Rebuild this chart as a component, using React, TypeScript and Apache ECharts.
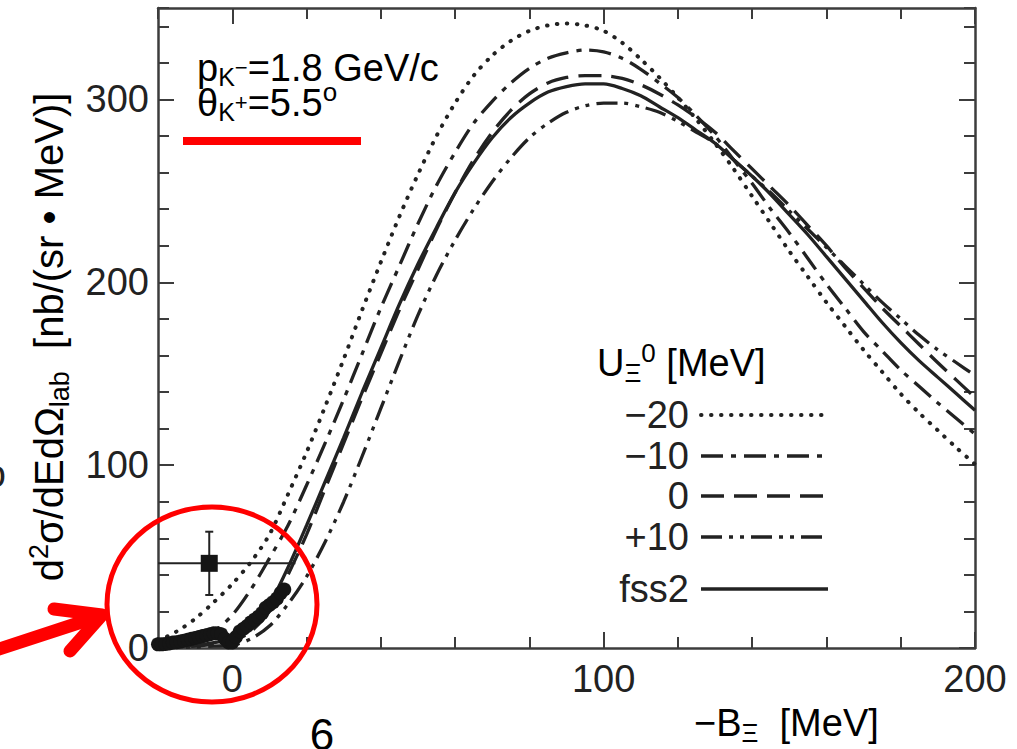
import React, { useEffect, useRef } from 'react';
import * as echarts from 'echarts';

// ---------- data ----------
const xValues = [-20, -15, -10, -5, 0, 5, 10, 15, 20, 25, 30, 35, 40, 45, 50, 55, 60, 65, 70, 75, 80, 85, 90, 95, 100, 105, 110, 115, 120, 125, 130, 135, 140, 145, 150, 155, 160, 165, 170, 175, 180, 185, 190, 195, 200];
const uMinus20 = [4, 9, 16, 25, 35, 47, 62, 84, 107, 132, 158, 185, 211, 236, 259, 280, 298, 313, 324, 332, 337.5, 340.5, 341.5, 340.5, 337.5, 331, 322, 312, 301, 289, 276, 262, 247, 232, 217, 203, 189, 176, 163, 151, 139, 128.5, 119, 109.5, 100.5];
const uMinus10 = [1.5, 3, 5, 9, 18, 32, 49, 67, 89, 112, 136, 161, 186, 209, 232, 253, 271, 287, 299, 309, 317, 322.5, 325.5, 327, 326, 322.5, 316.5, 309, 301, 291, 280, 267, 254, 240, 227, 213, 199, 186, 173, 162.5, 152, 143, 134, 125.5, 117];
const uZero = [0.3, 0.6, 1, 2, 3.5, 9, 20, 40, 62, 87, 112, 137, 161, 185, 207, 229, 249, 267, 282, 294, 303, 309, 312, 313, 313, 311.5, 308, 303, 297, 290, 282, 272, 262, 252, 242, 231, 220, 208, 197, 186, 176, 166, 156, 146.5, 137];
const uPlus10 = [0.2, 0.3, 0.5, 1, 1.5, 5, 12, 24, 39, 58, 80, 105, 131, 157, 182, 204, 223, 240, 255, 268, 279, 287, 293, 296.5, 298, 298, 296, 293, 288, 282, 276, 267, 258, 249, 239, 229, 219, 209, 199, 189, 180, 171, 163, 156, 149];
const fss2 = [0.5, 1, 1.5, 3, 5, 12, 24, 44, 67, 91, 115, 140, 164, 188, 210, 230, 249, 265, 279, 290, 298, 304, 307, 308.5, 308.5, 306, 302, 296, 290, 283, 276, 267, 258, 248, 237, 226, 214, 202, 190, 178, 167, 157, 148, 139, 130];

const dataX = [-20, -19, -18, -17, -16, -15, -14, -13, -12, -11, -10, -9, -8, -7, -6, -5, -4, -3, -2, -1, 0, 1, 2, 3, 4, 5, 6, 7, 8, 9, 10, 11, 12, 13, 14];
const dataY = [2, 2, 2.2, 2.5, 3, 3.2, 3.5, 4, 4.5, 5, 5.5, 6, 6.5, 7, 7.5, 8, 8, 7.5, 5, 3, 3, 6, 9, 10.5, 12, 14, 15.5, 17, 19, 22, 23.5, 25, 27, 30, 32];

// measured point with error bars: [x, y, xErr, yErr]
const measured = [-6.2, 46.3, 23.2, 17.3];

const xLabelValues = [0, 100, 200];
const yLabelValues = [0, 100, 200, 300];
const legendLabels = ['\u221220', '\u221210', '0', '+10', 'fss2'];

// ---------- styles ----------
const FONT = '"Liberation Sans", Arial, Helvetica, sans-serif';
const INK = '#222222';
const AXIS = '#3c3c3c';
const DASH_M20 = [0.5, 9.5];
const DASH_M10 = [22, 8, 5, 8];
const DASH_0 = [23, 10];
const DASH_P10 = [21, 7, 4, 7, 4, 7];
const dashes = [DASH_M20, DASH_M10, DASH_0, DASH_P10, null];
const caps = ['round', 'butt', 'butt', 'butt', 'butt'];
const widths = [4, 3.3, 3.3, 3.3, 3.3];

const base = { fontFamily: FONT, color: INK };
const richA = {
  a: { ...base, fontSize: 38, lineHeight: 46 },
  sub: { ...base, fontSize: 26, lineHeight: 24, verticalAlign: 'bottom' },
  sup: { ...base, fontSize: 26, lineHeight: 24, verticalAlign: 'top' },
};
const richB = {
  a: { ...base, fontSize: 38, lineHeight: 35 },
  sub: { ...base, fontSize: 25, lineHeight: 14, height: 16, verticalAlign: 'bottom' },
  ssup: { ...base, fontSize: 22, lineHeight: 14, height: 14, verticalAlign: 'middle' },
  sup: { ...base, fontSize: 26, lineHeight: 14, height: 14, verticalAlign: 'top' },
};
const richY = {
  a: { ...base, fontSize: 40, lineHeight: 48 },
  sub: { ...base, fontSize: 27, lineHeight: 25, verticalAlign: 'bottom' },
  sup: { ...base, fontSize: 27, lineHeight: 25, verticalAlign: 'top' },
};

const pair = (ys: number[]) => xValues.map((x, i) => [x, ys[i]]);

function lineSeries(name: string, ys: number[], idx: number) {
  return {
    type: 'line',
    name,
    data: pair(ys),
    symbol: 'none',
    showSymbol: false,
    smooth: 0.3,
    clip: true,
    silent: true,
    z: 3,
    lineStyle: {
      color: INK,
      width: widths[idx],
      type: dashes[idx] || 'solid',
      cap: caps[idx],
    },
  };
}

function makeXAxis(position: 'top' | 'bottom', major: boolean, labels: boolean) {
  return {
    type: 'value',
    gridIndex: 0,
    position,
    min: -20,
    max: 200,
    interval: 20,
    axisLine: { show: !major, onZero: false, lineStyle: { color: AXIS, width: 2.5 } },
    axisTick: major
      ? { show: true, inside: true, length: 16, customValues: xLabelValues, lineStyle: { color: AXIS, width: 2 } }
      : { show: true, inside: true, length: 11, lineStyle: { color: AXIS, width: 2 } },
    axisLabel: labels
      ? { show: true, customValues: xLabelValues, fontSize: 38, fontFamily: FONT, color: INK, margin: 12 }
      : { show: false },
    splitLine: { show: false },
  };
}

function makeYAxis(position: 'left' | 'right', major: boolean, labels: boolean) {
  return {
    type: 'value',
    gridIndex: 0,
    position,
    min: 0,
    max: 350,
    interval: 20,
    axisLine: { show: !major, onZero: false, lineStyle: { color: AXIS, width: 2.5 } },
    axisTick: major
      ? { show: true, inside: true, length: 16, customValues: yLabelValues, lineStyle: { color: AXIS, width: 2 } }
      : { show: true, inside: true, length: 11, lineStyle: { color: AXIS, width: 2 } },
    axisLabel: labels
      ? { show: true, customValues: yLabelValues, fontSize: 38, fontFamily: FONT, color: INK, margin: 9 }
      : { show: false },
    splitLine: { show: false },
  };
}

const legendY = [415, 456, 496, 537, 589];

function buildGraphic() {
  const g: any[] = [];
  // annotation text (two lines)
  g.push({
    type: 'text', x: 197, y: 50, z: 10,
    style: {
      text: '{a|p}{sub|K}{ssup|\u2212}{a|=1.8 GeV/c}\n{a|\u03b8}{sub|K}{ssup|+}{a|=5.5}{sup|o}',
      rich: richB, verticalAlign: 'top', align: 'left',
    },
  });
  // legend title
  g.push({
    type: 'text', x: 597, y: 340, z: 10,
    style: { text: '{a|U}{sub|\u039e}{sup|0}{a| [MeV]}', rich: richA, verticalAlign: 'top', align: 'left' },
  });
  legendLabels.forEach((lab, i) => {
    g.push({
      type: 'text', x: 689, y: legendY[i], z: 10,
      style: { text: lab, fontSize: 38, fontFamily: FONT, fill: INK, align: 'right', verticalAlign: 'middle' },
    });
    const st: any = { stroke: INK, lineWidth: widths[i], lineCap: caps[i] };
    if (dashes[i]) st.lineDash = dashes[i];
    g.push({
      type: 'line', z: 10,
      shape: { x1: 701, y1: legendY[i], x2: 828, y2: legendY[i] },
      style: st,
    });
  });
  // x axis title
  g.push({
    type: 'text', x: 694, y: 700, z: 10,
    style: { text: '{a|\u2212B}{sub|\u039e}{a|  [MeV]}', rich: richA, verticalAlign: 'top', align: 'left' },
  });
  // y axis title (rotated)
  g.push({
    type: 'text', x: 49, y: 337, rotation: Math.PI / 2, z: 10,
    style: {
      text: '{a|d}{sup|2}{a|\u03c3/dEd\u03a9}{sub|lab}{a|  [nb/(sr \u2022 MeV)]}',
      rich: richY, verticalAlign: 'middle', align: 'center',
    },
  });
  // red annotations
  g.push({
    type: 'line', z: 20,
    shape: { x1: 183, y1: 141, x2: 361, y2: 141 },
    style: { stroke: '#ff0000', lineWidth: 8 },
  });
  g.push({
    type: 'ellipse', z: 20,
    shape: { cx: 212, cy: 604.5, rx: 105, ry: 97.5 },
    style: { fill: 'none', stroke: '#ff0000', lineWidth: 5 },
  });
  g.push({
    type: 'line', z: 20,
    shape: { x1: -10, y1: 652, x2: 100, y2: 616 },
    style: { stroke: '#ff0000', lineWidth: 13, lineCap: 'round' },
  });
  g.push({
    type: 'polyline', z: 20,
    shape: { points: [[54, 609], [102, 615], [70, 651]] },
    style: { stroke: '#ff0000', lineWidth: 13, lineCap: 'round', lineJoin: 'round', fill: 'none' },
  });
  // page number and cut-off glyph at the edges
  g.push({
    type: 'text', x: 322, y: 734, z: 10,
    style: { text: '6', fontSize: 44, fontFamily: FONT, fill: '#000', align: 'center', verticalAlign: 'middle' },
  });
  g.push({
    type: 'text', x: 6, y: 474, z: 10,
    style: { text: 'o', fontSize: 38, fontFamily: FONT, fill: INK, align: 'right', verticalAlign: 'middle' },
  });
  return g;
}

const option: any = {
  animation: false,
  backgroundColor: '#ffffff',
  grid: { left: 158, right: 42, top: 8, bottom: 101, containLabel: false },
  xAxis: [
    makeXAxis('bottom', false, true),
    makeXAxis('bottom', true, false),
    makeXAxis('top', false, false),
    makeXAxis('top', true, false),
  ],
  yAxis: [
    makeYAxis('left', false, true),
    makeYAxis('left', true, false),
    makeYAxis('right', false, false),
    makeYAxis('right', true, false),
  ],
  series: [
    lineSeries('-20', uMinus20, 0),
    lineSeries('-10', uMinus10, 1),
    lineSeries('0', uZero, 2),
    lineSeries('+10', uPlus10, 3),
    lineSeries('fss2', fss2, 4),
    {
      type: 'scatter',
      name: 'data',
      data: dataX.map((x, i) => [x, dataY[i]]),
      symbol: 'circle',
      symbolSize: 14,
      itemStyle: { color: '#151515', opacity: 1 },
      clip: false,
      z: 4,
      silent: true,
    },
    {
      type: 'custom',
      name: 'error',
      clip: true,
      z: 4,
      silent: true,
      data: [measured],
      renderItem: (params: any, api: any) => {
        const x = api.value(0);
        const y = api.value(1);
        const ex = api.value(2);
        const ey = api.value(3);
        const l = api.coord([x - ex, y]);
        const r = api.coord([x + ex, y]);
        const b = api.coord([x, y - ey]);
        const t = api.coord([x, y + ey]);
        const st = { stroke: INK, lineWidth: 2 };
        return {
          type: 'group',
          children: [
            { type: 'line', shape: { x1: l[0], y1: l[1], x2: r[0], y2: r[1] }, style: st },
            { type: 'line', shape: { x1: b[0], y1: b[1], x2: t[0], y2: t[1] }, style: st },
            { type: 'line', shape: { x1: b[0] - 4, y1: b[1], x2: b[0] + 4, y2: b[1] }, style: st },
            { type: 'line', shape: { x1: t[0] - 4, y1: t[1], x2: t[0] + 4, y2: t[1] }, style: st },
          ],
        };
      },
    },
    {
      type: 'scatter',
      name: 'measured',
      data: [[measured[0], measured[1]]],
      symbol: 'rect',
      symbolSize: 17,
      itemStyle: { color: '#151515', opacity: 1 },
      z: 5,
      silent: true,
    },
  ],
  graphic: buildGraphic(),
};

export default function App() {
  const ref = useRef<HTMLDivElement>(null);
  useEffect(() => {
    if (!ref.current) return;
    const chart = echarts.init(ref.current, null, { renderer: 'svg' });
    chart.setOption(option);
    return () => chart.dispose();
  }, []);
  return (
    <div
      ref={ref}
      style={{ position: 'fixed', left: 0, top: 0, width: 1017, height: 749, background: '#fff' }}
    />
  );
}
